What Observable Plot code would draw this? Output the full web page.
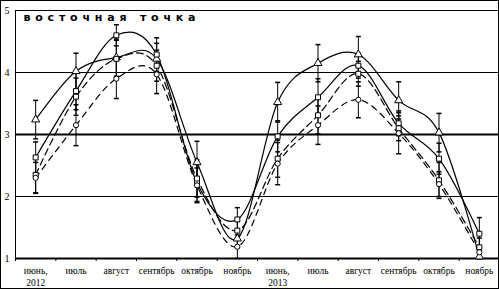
<!DOCTYPE html>
<html><head><meta charset="utf-8">
<script src="https://cdn.jsdelivr.net/npm/d3@7"></script>
<script src="https://cdn.jsdelivr.net/npm/@observablehq/plot@0.6"></script>
<style>
html,body{margin:0;padding:0;background:#fff;}
#wrap{position:relative;width:499px;height:289px;}
#wrap .frame{position:absolute;left:0;top:0;width:499px;height:289px;box-sizing:border-box;border:1px solid #000;pointer-events:none;}
</style>
</head><body>
<div id="wrap"><div class="frame"></div></div>
<script>
const months = ["июнь,","июль","август","сентябрь","октябрь","ноябрь","июнь,","июль","август","сентябрь","октябрь","ноябрь"];
const years  = ["2012","","","","","","2013","","","","",""];
const yTicks = [1,2,3,4,5];
const titleText = "восточная точка";

const triA = [3.24, 4.02, 4.24, 4.22, 2.55, 1.32, 3.52, 4.15, 4.29, 3.55, 3.03, 1.03];
const sqB  = [2.63, 3.70, 4.60, 4.29, 2.22, 1.63, 2.97, 3.60, 4.11, 3.18, 2.61, 1.40];
const sqC  = [2.35, 3.61, 4.22, 4.11, 2.29, 1.45, 2.61, 3.31, 3.98, 3.10, 2.26, 1.18];
const cirD = [2.30, 3.15, 3.90, 3.97, 2.18, 1.19, 2.53, 3.15, 3.56, 3.02, 2.20, 1.10];

const errA = [0.31, 0.29, 0.30, 0.25, 0.34, 0.15, 0.32, 0.30, 0.29, 0.30, 0.31, 0.05];
const errB = [0.25, 0.30, 0.17, 0.27, 0.30, 0.19, 0.25, 0.30, 0.20, 0.20, 0.25, 0.26];
const errC = [0.29, 0.30, 0.30, 0.25, 0.30, 0.15, 0.30, 0.30, 0.20, 0.20, 0.29, 0.15];
const errD = [0.25, 0.33, 0.32, 0.31, 0.28, 0.19, 0.34, 0.31, 0.29, 0.33, 0.20, 0.10];

const series = [
  {name:"A", vals:triA, err:errA, symbol:"triangle", dash:null, r:3.0},
  {name:"B", vals:sqB, err:errB, symbol:"square", dash:null, r:2.8},
  {name:"C", vals:sqC, err:errC, symbol:"square", dash:"7,4", r:2.8},
  {name:"D", vals:cirD, err:errD, symbol:"circle", dash:"6,5", r:2.6}
];

const rows = series.flatMap(s => s.vals.map((v,i) => ({i, v, s:s.name, lo:Math.max(1, v - s.err[i]), hi:v + s.err[i]})));
const idx = months.map((_,i)=>i);
const bounds = months.map((_,i)=>i-0.5).concat([months.length-0.5]);

const cap = {draw(ctx, size){ const r = 2.5; ctx.moveTo(-r,0); ctx.lineTo(r,0); }};

const marks = [
  Plot.ruleY([2,4,5], {stroke:"#000", strokeWidth:1}),
  Plot.ruleY([3], {stroke:"#000", strokeWidth:2}),
  Plot.ruleY([1], {stroke:"#000", strokeWidth:2}),
  Plot.ruleX([-0.5], {stroke:"#000", strokeWidth:1}),
  Plot.axisY({ticks:yTicks, tickSize:0, tickPadding:6, tickFormat:d=>String(d), label:null, fontSize:10, fontFamily:"Liberation Serif"}),
  Plot.axisX({ticks:bounds, tickSize:3, tickFormat:()=>"", label:null, anchor:"bottom"}),
  Plot.axisX({ticks:idx, tickSize:0, tickPadding:6, label:null, tickFormat:i=> years[i] ? months[i]+"\n"+years[i] : months[i], lineHeight:1.35, fontSize:9.5, fontFamily:"Liberation Serif", anchor:"bottom"}),
];
for (const s of series) {
  const d = rows.filter(r=>r.s===s.name);
  marks.push(Plot.line(d, {x:"i", y:"v", curve:"cardinal", stroke:"#000", strokeWidth:1.2, strokeDasharray:s.dash}));
}
for (const s of series) {
  const d = rows.filter(r=>r.s===s.name);
  marks.push(Plot.ruleX(d, {x:"i", y1:"lo", y2:"hi", stroke:"#000", strokeWidth:1}));
  marks.push(Plot.dot(d, {x:"i", y:"hi", symbol:cap, stroke:"#000", strokeWidth:1.5}));
  marks.push(Plot.dot(d, {x:"i", y:"lo", symbol:cap, stroke:"#000", strokeWidth:1.5}));
}
for (const s of series) {
  const d = rows.filter(r=>r.s===s.name);
  marks.push(Plot.dot(d, {x:"i", y:"v", symbol:s.symbol, r:s.r, fill:"#fff", stroke:"#000", strokeWidth:1}));
}
marks.push(Plot.text([titleText], {frameAnchor:"top-left", dx:8, dy:7, lineAnchor:"middle", fontWeight:900, fontSize:11, fontFamily:"DejaVu Sans", fill:"#000", text:d=>d}));

const chart = Plot.plot({
  width:499, height:289,
  marginLeft:15, marginRight:0, marginTop:10, marginBottom:31,
  x:{type:"linear", domain:[-0.5, months.length-0.5], axis:null},
  y:{domain:[1,5], axis:null},
  style:{background:"#fff", color:"#000", fontFamily:"Liberation Serif"},
  marks
});
d3.select(chart).selectAll("text").filter(function(){ return this.textContent === titleText; })
  .style("letter-spacing","4.8px").style("white-space","pre");
document.getElementById("wrap").prepend(chart);
</script>
</body></html>
